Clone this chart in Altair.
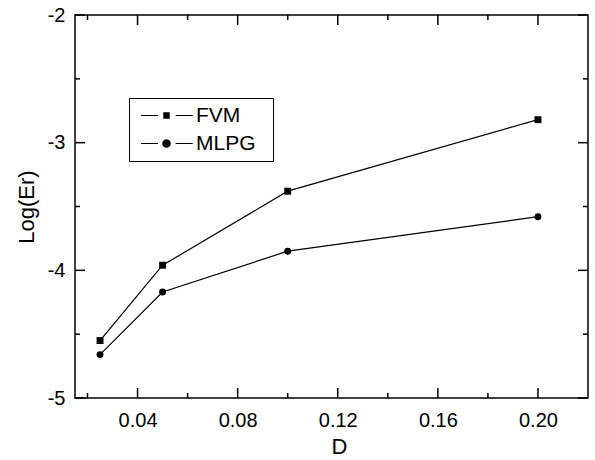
import altair as alt
import pandas as pd

# ---- data ----
d_values = [0.025, 0.05, 0.1, 0.2]
fvm = [-4.55, -3.96, -3.38, -2.82]
mlpg = [-4.66, -4.17, -3.85, -3.58]
series_names = ["FVM", "MLPG"]

x_major = [0.04, 0.08, 0.12, 0.16, 0.20]
x_minor = [0.02, 0.06, 0.10, 0.14, 0.18]
y_major = [-2, -3, -4, -5]
y_minor = [-2.5, -3.5, -4.5]

rows = []
for name, vals in zip(series_names, [fvm, mlpg]):
    for d, v in zip(d_values, vals):
        rows.append({"D": d, "E": v, "series": name})
df = pd.DataFrame(rows)

W, H = 513, 383
FONT = "Liberation Sans"

xs = alt.Scale(domain=[0.015, 0.22], nice=False, zero=False)
ys = alt.Scale(domain=[-5, -2], nice=False, zero=False)

xaxis = alt.Axis(values=x_major, format=".2f", ticks=False, domain=False, grid=False,
                 labelPadding=12, labelFontSize=20, labelFont=FONT, labelColor="black",
                 title="D", titleFontSize=22, titleFont=FONT, titleFontWeight="normal",
                 titleColor="black", titlePadding=6, titleX=264)
yaxis = alt.Axis(values=y_major, labelExpr="'' + datum.value", ticks=False, domain=False,
                 grid=False, labelPadding=10, labelFontSize=20, labelFont=FONT,
                 labelColor="black", title="Log(Er)", titleFontSize=22, titleFont=FONT,
                 titleFontWeight="normal", titleColor="black", titlePadding=9)

X = alt.X("D:Q", scale=xs, axis=xaxis)
Y = alt.Y("E:Q", scale=ys, axis=yaxis)

lines = alt.Chart(df).mark_line(color="black", strokeWidth=1.2).encode(
    x=X, y=Y, detail="series:N")

points = alt.Chart(df).mark_point(filled=True, color="black", opacity=1).encode(
    x=X, y=Y,
    shape=alt.Shape("series:N",
                    scale=alt.Scale(domain=series_names, range=["square", "circle"]),
                    legend=None),
    size=alt.value(48),
)

# legend glyphs "—■—" and "—●—" as filled paths (line segments are thin rectangles);
# the trailing moveTo only widens the legend frame
seg = "M-3.92,-0.09H-1.31V0.09H-3.92ZM1.42,-0.09H4.03V0.09H1.42Z"
sq_path = seg + "M-0.5,-0.5H0.5V0.5H-0.5ZM15.3,0"
ci_path = seg + "M-0.66,0A0.66,0.66,0,1,1,0.66,0A0.66,0.66,0,1,1,-0.66,0ZM15.3,0"

legend_layer = alt.Chart(df).transform_filter("false").mark_point(
    filled=True, color="black", opacity=1).encode(
    x=X, y=Y,
    shape=alt.Shape("series:N",
                    scale=alt.Scale(domain=series_names, range=[sq_path, ci_path]),
                    legend=alt.Legend(title=None, orient="none", legendX=54, legendY=83,
                                      strokeColor="black", fillColor="white", padding=7,
                                      symbolSize=169, symbolStrokeWidth=0,
                                      symbolFillColor="black",
                                      labelFont=FONT, labelFontSize=21, labelColor="black",
                                      rowPadding=6, symbolOffset=20, labelOffset=19)),
    size=alt.value(169),
)

# ---- inward ticks on all four sides ----
def xticks(vals, length):
    src = pd.DataFrame({"D": vals})
    bottom = alt.Chart(src).mark_rule(color="black", strokeWidth=1.5).encode(
        x=X, y=alt.value(H), y2=alt.value(H - length))
    top = alt.Chart(src).mark_rule(color="black", strokeWidth=1.5).encode(
        x=X, y=alt.value(0), y2=alt.value(length))
    return [bottom, top]

def yticks(vals, length):
    src = pd.DataFrame({"E": vals})
    left = alt.Chart(src).mark_rule(color="black", strokeWidth=1.5).encode(
        y=Y, x=alt.value(0), x2=alt.value(length))
    right = alt.Chart(src).mark_rule(color="black", strokeWidth=1.5).encode(
        y=Y, x=alt.value(W), x2=alt.value(W - length))
    return [left, right]

tick_layers = xticks(x_major, 10) + xticks(x_minor, 5) + yticks(y_major, 10) + yticks(y_minor, 5)

chart = alt.layer(lines, points, legend_layer, *tick_layers).resolve_scale(
    shape="independent").resolve_legend(shape="independent").properties(
    width=W, height=H,
    autosize=alt.AutoSizeParams(type="none"),
    padding={"left": 75, "top": 15, "right": 7, "bottom": 62},
    background="white",
).configure_view(stroke="black", strokeWidth=1.5)

chart.save("out.html", embed_options={"renderer": "svg", "actions": False})
